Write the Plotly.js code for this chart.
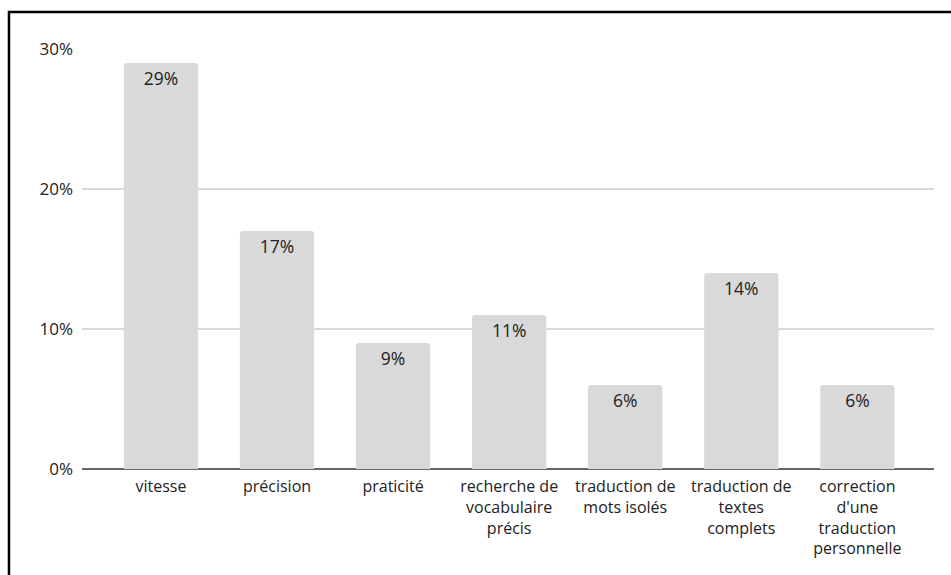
<!DOCTYPE html>
<html>
<head>
<meta charset="utf-8">
<script src="https://cdn.plot.ly/plotly-3.0.1.min.js"></script>
<style>
html, body { margin: 0; padding: 0; background: #fff; overflow: hidden; }
#chart { width: 951px; height: 575px; }
</style>
</head>
<body>
<div id="chart"></div>
<script>
const categories = [
  "vitesse",
  "précision",
  "praticité",
  "recherche de<br>vocabulaire<br>précis",
  "traduction de<br>mots isolés",
  "traduction de<br>textes<br>complets",
  "correction<br>d'une<br>traduction<br>personnelle"
];
const values = [29, 17, 9, 11, 6, 14, 6];
const valueLabels = ["29%", "17%", "9%", "11%", "6%", "14%", "6%"];
const yTickVals = [0, 10, 20, 30];
const yTickText = ["0%", "10%", "20%", "30%"];

const font = "'Open Sans', 'Noto Sans', sans-serif";

const trace = {
  type: "bar",
  x: categories,
  y: values,
  text: valueLabels,
  textposition: "inside",
  insidetextanchor: "end",
  constraintext: "none",
  textangle: 0,
  textfont: { family: font, size: 17.5, color: "#222" },
  marker: { color: "#d9d9d9", cornerradius: 3, line: { width: 0 } },
  width: 0.64,
  hoverinfo: "skip"
};

const layout = {
  width: 951,
  height: 575,
  margin: { l: 82, r: 17, t: 49, b: 106 },
  paper_bgcolor: "#ffffff",
  plot_bgcolor: "#ffffff",
  showlegend: false,
  font: { family: font, size: 16, color: "#222" },
  xaxis: {
    type: "category",
    range: [-0.68, 6.66],
    showgrid: false,
    showline: false,
    zeroline: false,
    ticks: "",
    ticklabelstandoff: 6,
    tickfont: { family: font, size: 16, color: "#222" },
    automargin: false,
    fixedrange: true
  },
  yaxis: {
    range: [0, 30],
    tickvals: yTickVals,
    ticktext: yTickText,
    showgrid: true,
    gridcolor: "#d9d9d9",
    gridwidth: 1.5,
    zeroline: true,
    zerolinecolor: "#666666",
    zerolinewidth: 2,
    showline: false,
    ticks: "",
    ticklabelstandoff: 8,
    tickfont: { family: font, size: 17, color: "#222" },
    automargin: false,
    fixedrange: true
  },
  shapes: [{
    type: "rect",
    xref: "paper", yref: "paper",
    x0: -0.0857, x1: 1.03,
    y0: -0.3, y1: 1.088,
    line: { color: "#000", width: 2.5 },
    fillcolor: "rgba(0,0,0,0)",
    layer: "above"
  }]
};

Plotly.newPlot("chart", [trace], layout, { displayModeBar: false, staticPlot: true });
</script>
</body>
</html>
